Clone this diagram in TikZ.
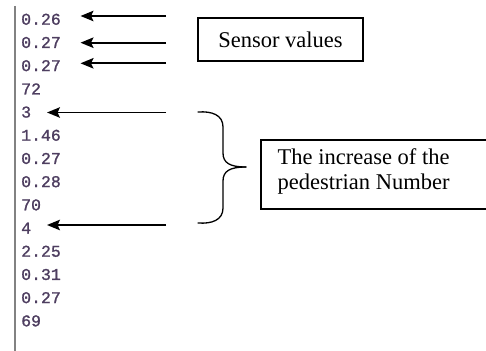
\documentclass[tikz,border=0pt]{standalone}
\usepackage{fontspec}
\setmainfont{Liberation Serif}
\newfontfamily\logfont[FakeBold=1.2]{Liberation Mono}
\usetikzlibrary{arrows.meta}
\definecolor{logtext}{RGB}{78,62,96}
\definecolor{margin}{RGB}{130,130,130}
\tikzset{
  val/.style={anchor=west, inner sep=0pt, text=logtext, font=\logfont\fontsize{16.5}{18}\selectfont},
  pointer/.style={line width=1.9pt, -{Stealth[length=13pt,width=10.5pt,inset=2.5pt]}},
  labelbox/.style={draw, line width=1.2pt, inner sep=0pt, font=\fontsize{22.5}{25}\selectfont, align=left},
  bracket/.style={line width=1.3pt, line cap=round}
}
\begin{document}
\begin{tikzpicture}[x=1pt,y=-1pt]
  \useasboundingbox (0,0) rectangle (486,350);
  \clip (0,0) rectangle (486,350);
  % left margin of the log window
  \draw[margin, line width=2.4pt] (15,6) -- (15,352);
  % logged readings, one per line
  \foreach \v [count=\i from 0] in {0.26,0.27,0.27,72,3,1.46,0.27,0.28,70,4,2.25,0.31,0.27,69}
    \node[val] (v\i) at (21,19.3+23.2*\i) {\v};
  % sensor value label
  \node[labelbox, minimum width=165pt, minimum height=43pt] (sensor) at (280.5,39.5) {Sensor values};
  \coordinate (s0) at (166,16);
  \coordinate (s1) at (166,42.7);
  \coordinate (s2) at (166,63.3);
  \coordinate (e0) at (80.5,16);
  \coordinate (e1) at (80.5,42.7);
  \coordinate (e2) at (80.5,63.3);
  \draw[pointer] (s0) -- (e0);
  \draw[pointer] (s1) -- (e1);
  \draw[pointer] (s2) -- (e2);
  % pedestrian count markers
  \coordinate (p0) at (166,112.5);
  \coordinate (p1) at (166,225);
  \coordinate (q0) at (47,112.5);
  \coordinate (q1) at (47,225);
  \draw[pointer] (p0) -- (q0);
  \draw[pointer] (p1) -- (q1);
  % brace grouping one record
  \coordinate (btop) at (198,112);
  \coordinate (bbot) at (198,223);
  \coordinate (btip) at (246,167);
  \draw[bracket] (btop) .. controls (212,111) and (223,115) .. (223,127)
    -- (223,153) .. controls (223,163) and (230,167) .. (btip);
  \draw[bracket] (bbot) .. controls (212,224) and (223,220) .. (223,208)
    -- (223,181) .. controls (223,171) and (230,167) .. (btip);
  % pedestrian label
  \draw[line width=1.2pt] (500,140) -- (261,140) -- (261,209) -- (500,209);
  \node[anchor=north west, inner sep=0pt, font=\fontsize{22.5}{25}\selectfont, align=left] (ped) at (277.5,148.5) {The increase of the\\pedestrian Number};
\end{tikzpicture}
\end{document}
